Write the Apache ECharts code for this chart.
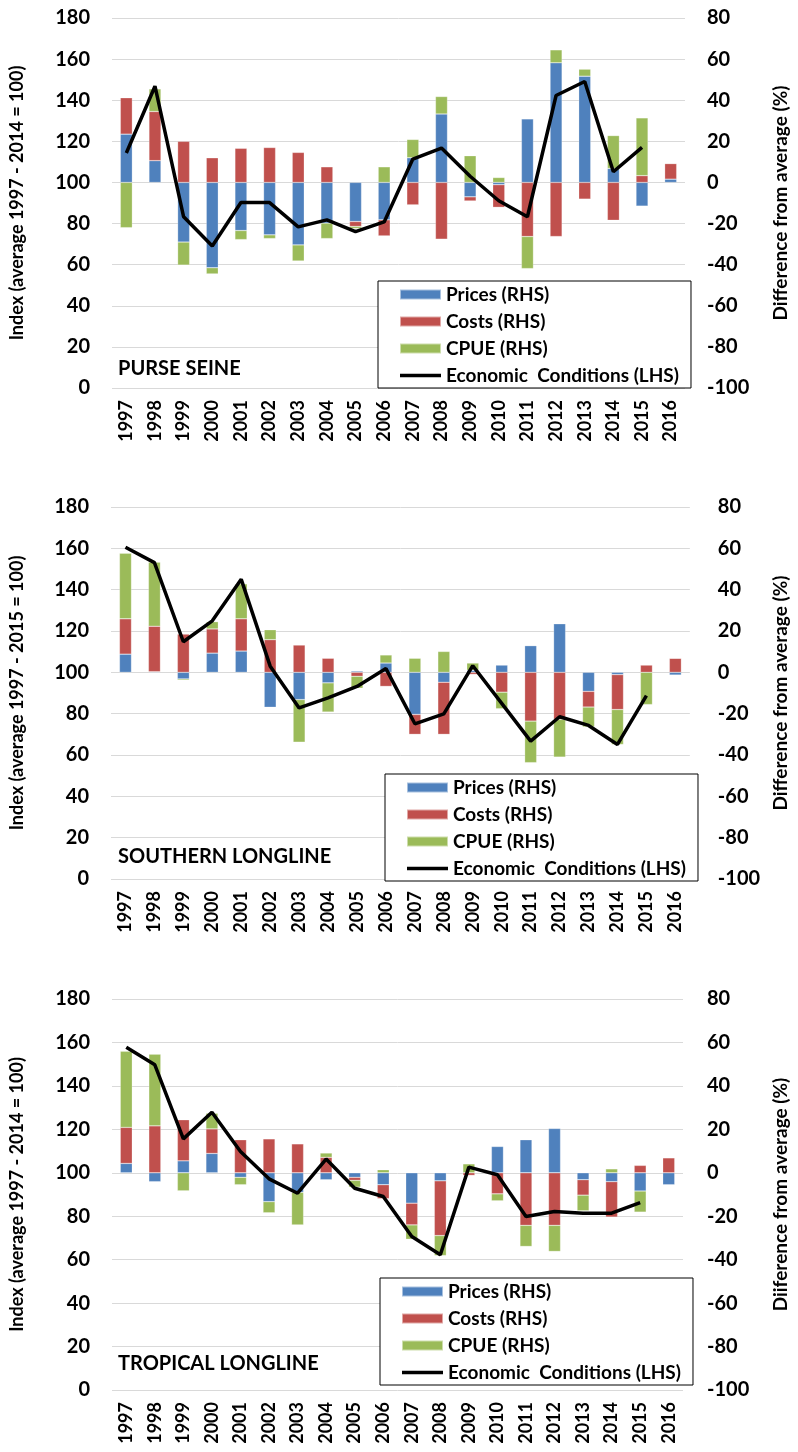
<!DOCTYPE html>
<html>
<head>
<meta charset="utf-8">
<script src="https://cdn.jsdelivr.net/npm/echarts@6/dist/echarts.min.js"></script>
<style>
html,body{margin:0;padding:0;background:#fff;}
#chart{width:798px;height:1452px;}
</style>
</head>
<body>
<div id="chart"></div>
<script>
var years = ['1997','1998','1999','2000','2001','2002','2003','2004','2005','2006','2007','2008','2009','2010','2011','2012','2013','2014','2015','2016'];
var leftTicks = { min: 0, max: 180, interval: 20 };
var rightTicks = { min: -100, max: 80, interval: 20 };

// PURSE SEINE
var psPrices = [23.5, 10.6, -29, -41.5, -23.4, -25.5, -30.4, -19.8, -19, -18.2, 12, 33.3, -7, -1.1, 30.9, 58.2, 51.7, 6.8, -11.5, 1.6];
var psCosts  = [17.7, 23.9, 20, 12, 16.6, 17, 14.6, 7.6, -2.4, -7.8, -10.9, -27.6, -2, -11, -26.3, -26.3, -8.1, -18.4, 3.3, 7.6];
var psCpue   = [-22, 11, -11.2, -3, -4.4, -1.8, -7.8, -7.5, -1, 7.6, 8.9, 8.5, 13, 2.4, -15.6, 6.3, 3.4, 16, 28.1, 0];
var psEcon   = [114.3, 146.8, 83.3, 69.1, 90.2, 90.2, 78.4, 81.8, 76.1, 80.8, 111.4, 116.7, 103, 91.1, 83.3, 142.3, 149.1, 105.2, 117.1, null];

// SOUTHERN LONGLINE
var slPrices = [8.8, 0.3, -3.2, 9.3, 10.3, -16.9, -13.2, -5.1, 0.6, 4.5, -20.4, -4.8, 1, 3.5, 12.9, 23.5, -9.2, -1.1, 0, -1.3];
var slCosts  = [17.1, 22, 18.5, 11.7, 15.6, 15.8, 13.2, 6.8, -1.9, -6.8, -9.6, -25.2, -1, -9.6, -23.6, -22.8, -7.6, -16.9, 3.5, 6.8];
var slCpue   = [31.7, 31, -0.6, 3.5, 16.9, 4.8, -20.6, -14.1, -5.8, 3.9, 6.8, 10.1, 3.5, -8, -20.1, -18.2, -9.6, -16.9, -15.6, 0];
var slEcon   = [160.5, 153.1, 114.8, 124.9, 145, 103, 82.8, 87.6, 93.2, 101.8, 75.1, 79.9, 103.2, 85, 66.7, 78.5, 74.3, 65.1, 88.7, null];

// TROPICAL LONGLINE
var tlPrices = [4.3, -4.1, 5.5, 8.9, -2.1, -13.3, -9, -3.2, -2.1, -5.5, -14, -3.7, 0, 12.1, 15.2, 20.4, -3.2, -4.1, -8.4, -5.5];
var tlCosts  = [16.6, 21.6, 18.9, 11.3, 15.2, 15.6, 13.3, 7.1, -1.4, -6.4, -10, -25.2, -1.2, -9.7, -24.2, -24.2, -7.1, -16.3, 3.4, 6.9];
var tlCpue   = [35, 33, -8.3, 7.2, -3.4, -5.1, -15, 2, -3.1, 1.4, -6.6, -9.2, 4.1, -3.2, -9.7, -12, -7.2, 1.8, -9.7, 0];
var tlEcon   = [157.8, 149.7, 115.6, 127.9, 109.8, 97.2, 90.6, 106.3, 92.9, 89.1, 70.7, 62.3, 102.6, 99.1, 79.9, 82.2, 81.4, 81.4, 86.3, null];

var panelTitles = ['PURSE SEINE', 'SOUTHERN LONGLINE', 'TROPICAL LONGLINE'];
var leftNames = ['Index (average 1997 - 2014 = 100)', 'Index (average 1997 - 2015 = 100)', 'Index (average 1997 - 2014 = 100)'];
var rightNames = ['Difference from average (%)', 'Difference from average (%)', 'Diiference from average (%)'];
var seriesNames = ['Prices (RHS)', 'Costs (RHS)', 'CPUE (RHS)', 'Economic  Conditions (LHS)'];

var panels = [
  { prices: psPrices, costs: psCosts, cpue: psCpue, econ: psEcon },
  { prices: slPrices, costs: slCosts, cpue: slCpue, econ: slEcon },
  { prices: tlPrices, costs: tlCosts, cpue: tlCpue, econ: tlEcon }
];

var FONT = 'Lato';
var colors = ['#4F81BD', '#C0504D', '#9BBB59'];

var layout = [
  { left: 112, right: 98, top: 18, height: 370, rMargin: 22, lgap: 86, rgap: 86, lgLeft: 378, lgTop: 281, titleY: 371 },
  { left: 111, right: 89, top: 507, height: 372, rMargin: 28, lgap: 85, rgap: 80, lgLeft: 385, lgTop: 774, titleY: 859 },
  { left: 112, right: 96, top: 999, height: 391, rMargin: 24, lgap: 86, rgap: 88, lgLeft: 380, lgTop: 1278, titleY: 1366 }
];

var grid = [], xAxis = [], yAxis = [], series = [], legend = [], graphic = [];
layout.forEach(function (L, i) {
  grid.push({ left: L.left, right: L.right, top: L.top, height: L.height, containLabel: false });
  xAxis.push({
    type: 'category', gridIndex: i, data: years,
    axisTick: { show: false }, axisLine: { show: false },
    axisLabel: { rotate: 90, margin: 12, color: '#000', fontSize: 18, fontWeight: 'bold', fontFamily: FONT, interval: 0 }
  });
  yAxis.push({
    type: 'value', gridIndex: i, position: 'left',
    min: leftTicks.min, max: leftTicks.max, interval: leftTicks.interval,
    name: leftNames[i], nameLocation: 'middle', nameGap: L.lgap, nameRotate: 90,
    nameTextStyle: { color: '#000', fontSize: 18, fontWeight: 'bold', fontFamily: FONT },
    axisLine: { show: false }, axisTick: { show: false },
    axisLabel: { margin: 22, color: '#000', fontSize: 20, fontWeight: 'bold', fontFamily: FONT },
    splitLine: { show: true, lineStyle: { color: '#D9D9D9', width: 1 } }
  });
  yAxis.push({
    type: 'value', gridIndex: i, position: 'right',
    min: rightTicks.min, max: rightTicks.max, interval: rightTicks.interval,
    name: rightNames[i], nameLocation: 'middle', nameGap: L.rgap, nameRotate: 90,
    nameTextStyle: { color: '#000', fontSize: 19, fontWeight: 'bold', fontFamily: FONT },
    axisLine: { show: false }, axisTick: { show: false },
    axisLabel: { margin: L.rMargin, color: '#000', fontSize: 20, fontWeight: 'bold', fontFamily: FONT },
    splitLine: { show: false }
  });
  var P = panels[i];
  [P.prices, P.costs, P.cpue].forEach(function (arr, k) {
    series.push({
      name: seriesNames[k], type: 'bar', xAxisIndex: i, yAxisIndex: i * 2 + 1,
      stack: 'panel' + i, stackStrategy: 'samesign', data: arr, barWidth: 12,
      itemStyle: { color: colors[k], borderColor: 'rgba(255,255,255,0.5)', borderWidth: 0.5 },
      emphasis: { disabled: true }
    });
  });
  series.push({
    name: seriesNames[3], type: 'line', xAxisIndex: i, yAxisIndex: i * 2, data: P.econ,
    symbol: 'none', showSymbol: false, connectNulls: false, z: 5,
    lineStyle: { color: '#000', width: 3.5 }, itemStyle: { color: '#000' },
    emphasis: { disabled: true }
  });
  legend.push({
    orient: 'vertical', left: L.lgLeft, top: L.lgTop,
    data: [
      { name: seriesNames[0], icon: 'rect' },
      { name: seriesNames[1], icon: 'rect' },
      { name: seriesNames[2], icon: 'rect' },
      { name: seriesNames[3], icon: 'path://M0,0 H40 V3.4 H0 Z' }
    ],
    itemWidth: 41, itemHeight: 10, itemGap: 8,
    padding: [4, 12, 3, 21],
    borderColor: '#000', borderWidth: 1, backgroundColor: '#fff',
    selectedMode: false, z: 10,
    textStyle: { color: '#000', fontSize: 19, fontWeight: 'bold', fontFamily: FONT }
  });
  graphic.push({
    type: 'text', left: 118, top: L.titleY - 12, z: 20,
    style: { text: panelTitles[i], fill: '#000', font: 'bold 20px ' + FONT }
  });
});

var chart = echarts.init(document.getElementById('chart'), null, { renderer: 'canvas' });
chart.setOption({
  animation: false,
  backgroundColor: '#fff',
  grid: grid, xAxis: xAxis, yAxis: yAxis, series: series, legend: legend, graphic: graphic
});
</script>
</body>
</html>
